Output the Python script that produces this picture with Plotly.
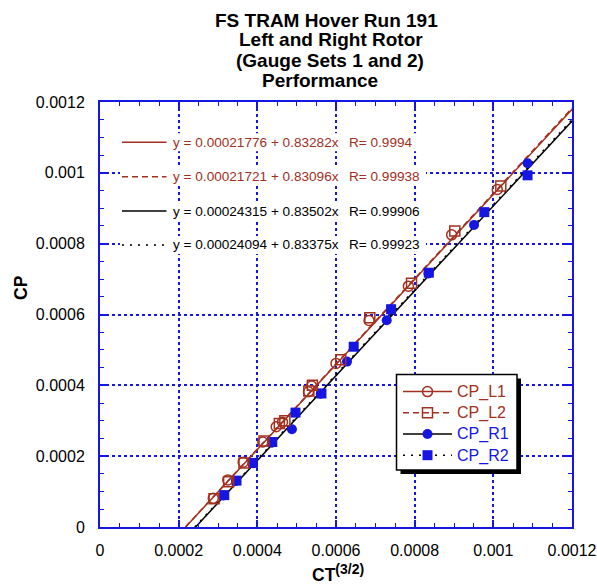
import plotly.graph_objects as go

# ---------------- data ----------------
L1_x = [0.000288, 0.000325, 0.000364, 0.000414, 0.000448, 0.000464, 0.000530, 0.000538,
        0.000600, 0.000684, 0.000784, 0.000894, 0.001010]
L1_y = [0.0000810, 0.000133, 0.000183, 0.000240, 0.000283, 0.000296, 0.000382, 0.000398,
        0.000462, 0.000583, 0.000680, 0.000825, 0.000953]
L2_x = [0.000290, 0.000327, 0.000366, 0.000417, 0.000456, 0.000470, 0.000531, 0.000540,
        0.000612, 0.000686, 0.000792, 0.000902, 0.001019]
L2_y = [0.0000800, 0.000128, 0.000181, 0.000243, 0.000292, 0.000300, 0.000384, 0.000400,
        0.000472, 0.000591, 0.000688, 0.000836, 0.000963]
R1_x = [0.000314, 0.000346, 0.000388, 0.000437, 0.000488, 0.000561, 0.000628, 0.000729,
        0.000835, 0.000951, 0.001087]
R1_y = [0.0000890, 0.000130, 0.000180, 0.000238, 0.000276, 0.000376, 0.000467, 0.000584,
        0.000716, 0.000853, 0.001027]
R2_x = [0.000316, 0.000347, 0.000389, 0.000438, 0.000497, 0.000563, 0.000645, 0.000740,
        0.000836, 0.000977, 0.001087]
R2_y = [0.0000900, 0.000131, 0.000181, 0.000240, 0.000323, 0.000377, 0.000509, 0.000615,
        0.000718, 0.000889, 0.000993]

# linear fits, expressed as CT^(3/2) = a + b * CP
fit_names = ["CP_L1", "CP_L2", "CP_R1", "CP_R2"]
fit_intercepts = ["0.00021776", "0.00021721", "0.00024315", "0.00024094"]
fit_slopes = ["0.83282", "0.83096", "0.83502", "0.83375"]
fit_r = ["0.9994", "0.99938", "0.99906", "0.99923"]

x_tick_vals = [0, 0.0002, 0.0004, 0.0006, 0.0008, 0.001, 0.0012]
x_tick_text = ["0", "0.0002", "0.0004", "0.0006", "0.0008", "0.001", "0.0012"]
y_tick_vals = [0, 0.0002, 0.0004, 0.0006, 0.0008, 0.001, 0.0012]
y_tick_text = ["0", "0.0002", "0.0004", "0.0006", "0.0008", "0.001", "0.0012"]

title_lines = ["FS TRAM Hover Run 191", "Left and Right Rotor",
               "(Gauge Sets 1 and 2)", "Performance"]

# ---------------- styles ----------------
BROWN = "#A2301E"
BLUE = "#1616E2"
BLACK = "#000000"
FONT = "Liberation Sans, Arial, sans-serif"

W, H = 597, 585
ML, MR, MT, MB = 100, 25, 102, 58
PW, PH = W - ML - MR, H - MT - MB


def px(xp):
    return (xp - ML) / PW


def py(yp):
    return (H - MB - yp) / PH


line_styles = [
    dict(color=BROWN, width=1.5, dash="solid"),
    dict(color=BROWN, width=1.5, dash="6px,4px"),
    dict(color=BLACK, width=1.5, dash="solid"),
    dict(color=BLACK, width=1.5, dash="2px,6px"),
]
marker_styles = [
    dict(symbol="circle-open", size=10, color=BROWN, line=dict(color=BROWN, width=1.5)),
    dict(symbol="square-open", size=10, color=BROWN, line=dict(color=BROWN, width=1.5)),
    dict(symbol="circle", size=10, color=BLUE, line=dict(width=0)),
    dict(symbol="square", size=10, color=BLUE, line=dict(width=0)),
]
text_colors = [BROWN, BROWN, BLUE, BLUE]
eq_colors = [BROWN, BROWN, BLACK, BLACK]

fig = go.Figure()

# fit lines
cp_span = [0.0, 0.0013]
for i in range(4):
    a = float(fit_intercepts[i])
    b = float(fit_slopes[i])
    fig.add_trace(go.Scatter(
        x=[a + b * v for v in cp_span], y=cp_span, mode="lines",
        line=line_styles[i], showlegend=False, hoverinfo="skip"))

# data markers
series = [(L1_x, L1_y), (L2_x, L2_y), (R1_x, R1_y), (R2_x, R2_y)]
for i in [2, 3, 0, 1]:
    sx, sy = series[i]
    fig.add_trace(go.Scatter(
        x=sx, y=sy, mode="markers", marker=marker_styles[i],
        name=fit_names[i], showlegend=False))

# legend entries (line style + marker)
for i in range(4):
    fig.add_trace(go.Scatter(
        x=[None], y=[None], mode="lines+markers",
        line=line_styles[i], marker=marker_styles[i],
        name="<span style='color:%s;font-size:16px'>%s</span>" % (text_colors[i], fit_names[i])))

shapes = []
annotations = []

# equation block
row_y = [142.3, 176.7, 211.0, 245.0]
for i in range(4):
    yy = row_y[i]
    shapes.append(dict(type="rect", xref="paper", yref="paper",
                       x0=px(120), x1=px(426), y0=py(yy + 9), y1=py(yy - 9),
                       fillcolor="white", line=dict(width=0), layer="above"))
    ls = line_styles[i]
    shapes.append(dict(type="line", xref="paper", yref="paper",
                       x0=px(122), x1=px(166.5), y0=py(yy), y1=py(yy),
                       line=dict(color=ls["color"], width=ls["width"], dash=ls["dash"]),
                       layer="above"))
    annotations.append(dict(
        xref="paper", yref="paper", x=px(171), y=py(yy), xanchor="left", yanchor="middle",
        text="y = %s + %sx" % (fit_intercepts[i], fit_slopes[i]), showarrow=False,
        font=dict(family=FONT, size=13.6, color=eq_colors[i])))
    annotations.append(dict(
        xref="paper", yref="paper", x=px(347), y=py(yy), xanchor="left", yanchor="middle",
        text="R= %s" % fit_r[i], showarrow=False,
        font=dict(family=FONT, size=13.6, color=eq_colors[i])))

# legend frame with drop shadow
shapes.append(dict(type="rect", xref="paper", yref="paper",
                   x0=px(400.5), x1=px(521), y0=py(474), y1=py(378.5),
                   fillcolor="black", line=dict(width=0), layer="above"))
shapes.append(dict(type="rect", xref="paper", yref="paper",
                   x0=px(396.5), x1=px(517), y0=py(470), y1=py(374.5),
                   fillcolor="white", line=dict(color="black", width=1.5), layer="above"))

# title lines
title_cx = [326.5, 331, 329.7, 319.5]
title_cy = [20, 40, 60.5, 80.5]
for i, t in enumerate(title_lines):
    annotations.append(dict(
        xref="paper", yref="paper", x=px(title_cx[i]), y=py(title_cy[i]),
        xanchor="center", yanchor="middle", text="<b>%s</b>" % t, showarrow=False,
        font=dict(family=FONT, size=19, color="black")))

# axis titles
annotations.append(dict(
    xref="paper", yref="paper", x=px(338), y=py(573), xanchor="center", yanchor="middle",
    text="<b>CT<sup><span style='font-size:14px'>(3/2)</span></sup></b>", showarrow=False,
    font=dict(family=FONT, size=17.5, color="black")))
annotations.append(dict(
    xref="paper", yref="paper", x=px(20.5), y=py(287.5), xanchor="center", yanchor="middle",
    text="<b>CP</b>", textangle=-90, showarrow=False,
    font=dict(family=FONT, size=17.5, color="black")))

axis_common = dict(
    range=[0, 0.0012], ticks="inside", ticklen=7, tickwidth=1.5, tickcolor=BLUE,
    showline=True, linecolor=BLUE, linewidth=2, mirror="ticks",
    showgrid=True, gridcolor=BLUE, gridwidth=1.5, griddash="dot", zeroline=False,
    tickfont=dict(family=FONT, size=16, color="black"),
    minor=dict(tickmode="linear", tick0=0, dtick=0.00005, ticks="inside", ticklen=4,
               tickwidth=1.2, tickcolor=BLUE, showgrid=False),
)

fig.update_layout(
    width=W, height=H,
    margin=dict(l=ML, r=MR, t=MT, b=MB, autoexpand=False),
    paper_bgcolor="white", plot_bgcolor="white",
    font=dict(family=FONT, size=16, color="black"),
    xaxis=dict(tickmode="array", tickvals=x_tick_vals, ticktext=x_tick_text,
               ticklabelstandoff=8, **axis_common),
    yaxis=dict(tickmode="array", tickvals=y_tick_vals, ticktext=y_tick_text,
               ticklabelstandoff=10, **axis_common),
    legend=dict(x=px(398), y=py(376), xanchor="left", yanchor="top",
                bgcolor="rgba(0,0,0,0)", borderwidth=0,
                font=dict(family=FONT, size=14), tracegroupgap=0, itemwidth=49,
                itemclick=False, itemdoubleclick=False),
    shapes=shapes, annotations=annotations,
    showlegend=True,
)

fig.write_html("out.html", config={"displayModeBar": False},
               post_script="document.body.style.margin='0';document.body.style.overflow='hidden';")
